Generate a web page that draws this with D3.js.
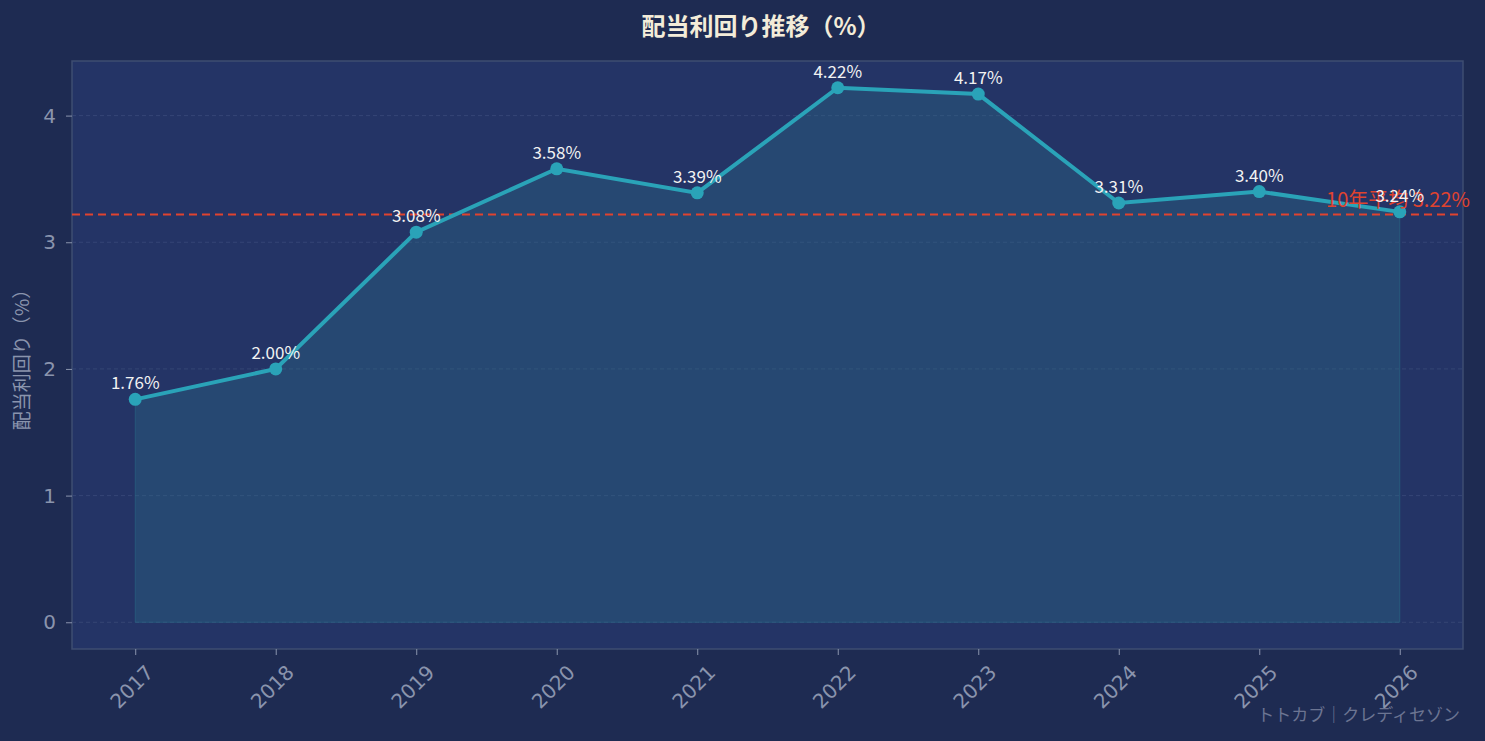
<!DOCTYPE html>
<html><head><meta charset="utf-8">
<script src="https://cdn.jsdelivr.net/npm/d3@7"></script>
<style>body{margin:0;background:#1e2b52;}svg{display:block;font-family:"Noto Sans CJK JP","Noto Sans",sans-serif;}</style>
</head><body><svg width="1485" height="741"></svg>
<script>
const years = [2017, 2018, 2019, 2020, 2021, 2022, 2023, 2024, 2025, 2026];
const yields = [1.76, 2.00, 3.08, 3.58, 3.39, 4.22, 4.17, 3.31, 3.40, 3.24];
const yTicks = [0, 1, 2, 3, 4];
const avg = 3.22;

const svg = d3.select("svg");
const L = 72, R = 1463, T = 61, B = 649;

const x = d3.scaleLinear().domain([2016.55, 2026.45]).range([L, R]);
const y = d3.scaleLinear().domain([-0.211, 4.431]).range([B, T]);

svg.append("text").attr("x", 761).attr("y", 35).attr("text-anchor", "middle")
  .attr("fill", "#f3ecd9").attr("font-size", 24).attr("font-weight", "bold").text("配当利回り推移（%）");

svg.append("rect").attr("x", L).attr("y", T).attr("width", R - L).attr("height", B - T)
  .attr("fill", "#243466").attr("stroke", "#3e4d72").attr("stroke-width", 1.5);

// grid
svg.selectAll(".grid").data(yTicks).enter().append("line")
  .attr("x1", L).attr("x2", R).attr("y1", d => y(d)).attr("y2", d => y(d))
  .attr("stroke", "#3a4a78").attr("stroke-dasharray", "4,3").attr("stroke-width", 0.8);

// axes
const yAxis = svg.append("g").attr("transform", `translate(${L},0)`)
  .call(d3.axisLeft(y).tickValues(yTicks).tickFormat(d3.format("d")).tickSize(6).tickPadding(10));
const xAxis = svg.append("g").attr("transform", `translate(0,${B})`)
  .call(d3.axisBottom(x).tickValues(years).tickFormat(d3.format("d")).tickSize(6));
[yAxis, xAxis].forEach(g => {
  g.select(".domain").remove();
  g.selectAll("line").attr("stroke", "#8a94ad");
  g.selectAll("text").attr("fill", "#8a94ad").attr("font-size", 20).attr("font-family", "DejaVu Sans");
});
xAxis.selectAll("text").attr("text-anchor", "end").attr("dx", "-0.2em").attr("dy", "1.1em")
  .attr("transform", "rotate(-45)");

svg.append("text").attr("transform", `translate(29,${(T + B) / 2}) rotate(-90)`)
  .attr("text-anchor", "middle").attr("fill", "#8a94ad").attr("font-size", 19).text("配当利回り（%）");

// area
const pts = years.map((d, i) => ({ yr: d, v: yields[i] }));
svg.append("path").datum(pts)
  .attr("d", d3.area().x(d => x(d.yr)).y0(y(0)).y1(d => y(d.v)))
  .attr("fill", "#2a6f8a").attr("fill-opacity", 0.35).attr("stroke", "#2a6f8a").attr("stroke-opacity", 0.5);

// average line
svg.append("line").attr("x1", L).attr("x2", R).attr("y1", y(avg)).attr("y2", y(avg))
  .attr("stroke", "#e0432f").attr("stroke-width", 2).attr("stroke-dasharray", "8,5");

svg.append("path").datum(pts)
  .attr("d", d3.line().x(d => x(d.yr)).y(d => y(d.v)))
  .attr("fill", "none").attr("stroke", "#2aa3b8").attr("stroke-width", 4);

svg.selectAll(".pt").data(pts).enter().append("circle")
  .attr("cx", d => x(d.yr)).attr("cy", d => y(d.v)).attr("r", 6.5).attr("fill", "#2aa3b8");

svg.append("text").attr("x", 1470).attr("y", y(avg) - 7).attr("text-anchor", "end")
  .attr("fill", "#e0432f").attr("font-size", 20).text(`10年平均 ${avg.toFixed(2)}%`);

svg.selectAll(".lbl").data(pts).enter().append("text")
  .attr("x", d => x(d.yr)).attr("y", d => y(d.v) - 10).attr("text-anchor", "middle")
  .attr("fill", "#f2f2f2").attr("font-size", 17).text(d => d.v.toFixed(2) + "%");

svg.append("text").attr("x", 1460).attr("y", 721).attr("text-anchor", "end")
  .attr("fill", "#6c7592").attr("font-size", 17).text("トトカブ｜クレディセゾン");
</script></body></html>
